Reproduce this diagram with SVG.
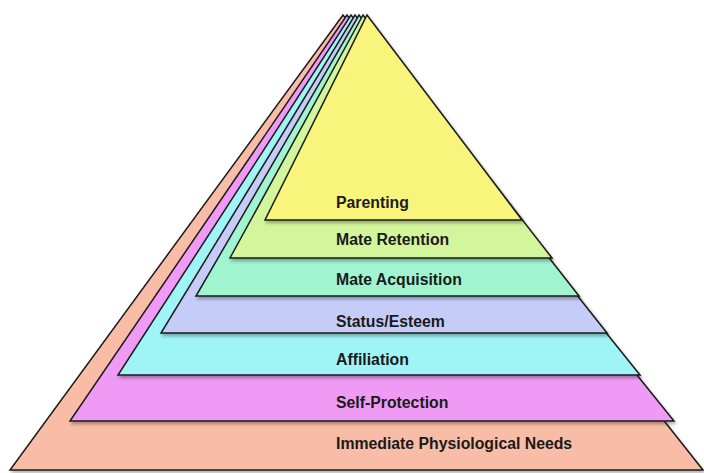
<svg xmlns="http://www.w3.org/2000/svg" width="704" height="473" viewBox="0 0 704 473">
  <defs>
    <filter id="shadow" x="-10%" y="-10%" width="130%" height="130%">
      <feDropShadow dx="1.5" dy="2.5" stdDeviation="1.8" flood-color="#000" flood-opacity="0.3"/>
    </filter>
  </defs>
  <style>
    .layer { stroke: #1a1a1a; stroke-width: 1.5; stroke-linejoin: miter; filter: url(#shadow); }
    .lbl { font-family: "Liberation Sans", Arial, sans-serif; font-weight: bold; font-size: 15.8px; fill: #1a1a1a; }
  </style>
  <rect width="704" height="473" fill="#ffffff"/>
  <g id="layer-physiological">
    <polygon class="layer" fill="#f9bca7" points="343,15 703,470 10,470"/>
    <text class="lbl" x="336" y="449">Immediate Physiological Needs</text>
  </g>
  <g id="layer-self-protection">
    <polygon class="layer" fill="#ef9bf6" points="347,15 674,421 70,421"/>
    <text class="lbl" x="336" y="407.5">Self-Protection</text>
  </g>
  <g id="layer-affiliation">
    <polygon class="layer" fill="#9ff4f6" points="351,15 640,375 118,375"/>
    <text class="lbl" x="336" y="365">Affiliation</text>
  </g>
  <g id="layer-status">
    <polygon class="layer" fill="#c5ccf8" points="355,15 607,333 161,333"/>
    <text class="lbl" x="336" y="326.5">Status/Esteem</text>
  </g>
  <g id="layer-mate-acquisition">
    <polygon class="layer" fill="#a0f4d0" points="359,15 579,296 196,296"/>
    <text class="lbl" x="336" y="284.5">Mate Acquisition</text>
  </g>
  <g id="layer-mate-retention">
    <polygon class="layer" fill="#d3f59b" points="363,15 552,258 230,258"/>
    <text class="lbl" x="336" y="245">Mate Retention</text>
  </g>
  <g id="layer-parenting">
    <polygon class="layer" fill="#f9f57c" points="367,15 522,220 265,220"/>
    <text class="lbl" x="336" y="208">Parenting</text>
  </g>
  <g id="connectors"/>
</svg>
